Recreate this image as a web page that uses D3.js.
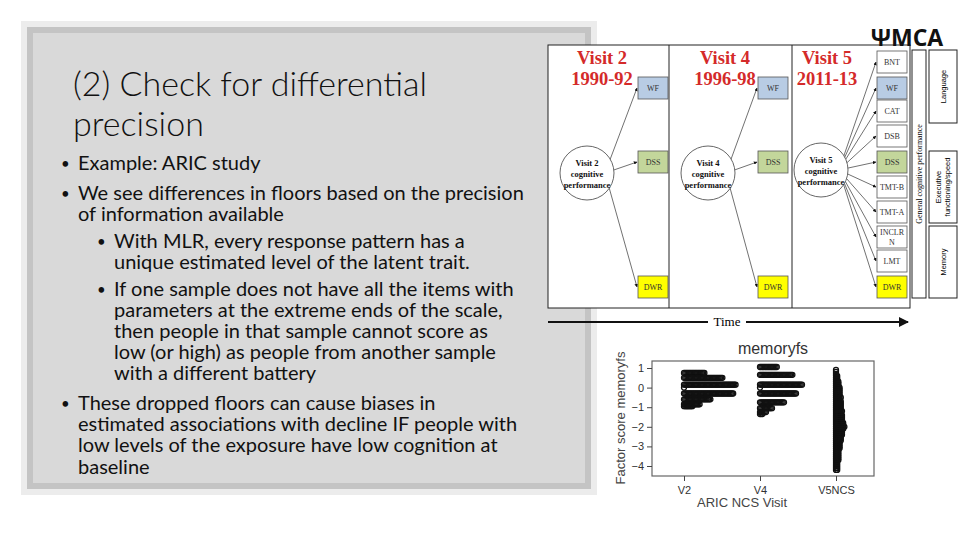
<!DOCTYPE html>
<html><head><meta charset="utf-8">
<script src="https://cdn.jsdelivr.net/npm/d3@7"></script>
<style>body{margin:0;background:#fff}svg{display:block}</style>
</head><body>
<svg id="slide" width="960" height="540"></svg>
<script>
// dot plot data: factor score levels and number of people at each level
let visits = ["V2", "V4", "V5NCS"];
let v2Levels = [0.75, 0.5, 0.15, 0, -0.3, -0.6, -0.85, -0.95];
let v2Counts = [18, 33, 44, 1, 42, 23, 14, 8];
let v4Levels = [1.05, 0.65, 0.15, 0, -0.3, -0.75, -1.05, -1.25, -1.35];
let v4Counts = [15, 28, 36, 1, 31, 21, 11, 6, 3];
let v5Levels = [0.9, 0.8, 0.7, 0.6, 0.5, 0.4, 0.3, 0.2, 0.1, 0, -0.1, -0.2, -0.3, -0.4, -0.5, -0.6, -0.7, -0.8, -0.9, -1.0,
  -1.1, -1.2, -1.3, -1.4, -1.5, -1.6, -1.7, -1.8, -1.9, -2.0, -2.1, -2.2, -2.3, -2.4, -2.5, -2.6, -2.7, -2.8, -2.9, -3.0,
  -3.1, -3.2, -3.3, -3.4, -3.5, -3.6, -3.7, -3.8, -3.9, -4.0, -4.1, -4.2];
let v5Counts = [1, 1, 1, 2, 2, 2, 3, 3, 3, 4, 4, 4, 4, 4, 5, 4, 5, 5, 5, 5,
  5, 6, 5, 6, 6, 6, 6, 7, 7, 8, 7, 6, 6, 6, 5, 5, 5, 4, 4, 4,
  4, 3, 3, 3, 3, 3, 3, 2, 2, 2, 2, 2];
let yTicks = [1, 0, -1, -2, -3, -4];

let svg = d3.select("#slide");

// ---- left text panel
svg.append("rect").attr("x", 21).attr("y", 21).attr("width", 576).attr("height", 474).attr("fill", "#ececec");
svg.append("rect").attr("x", 27).attr("y", 27).attr("width", 564).attr("height", 462).attr("fill", "#c4c4c4");
svg.append("rect").attr("x", 33).attr("y", 33).attr("width", 552).attr("height", 450).attr("fill", "#d9d9d9");

svg.append("text").attr("x", 73).attr("y", 96).attr("font-family", "Lato").attr("font-weight", 300)
  .attr("font-size", 34).attr("fill", "#111").text("(2) Check for differential");
svg.append("text").attr("x", 73).attr("y", 136).attr("font-family", "Lato").attr("font-weight", 300)
  .attr("font-size", 34).attr("fill", "#111").text("precision");

let lines = [
  [1, true, 170, "Example: ARIC study"],
  [1, true, 200, "We see differences in floors based on the precision"],
  [1, false, 221, "of information available"],
  [2, true, 248, "With MLR, every response pattern has a"],
  [2, false, 269, "unique estimated level of the latent trait."],
  [2, true, 296, "If one sample does not have all the items with"],
  [2, false, 317, "parameters at the extreme ends of the scale,"],
  [2, false, 338, "then people in that sample cannot score as"],
  [2, false, 359, "low (or high) as people from another sample"],
  [2, false, 380, "with a different battery"],
  [1, true, 410, "These dropped floors can cause biases in"],
  [1, false, 431, "estimated associations with decline IF people with"],
  [1, false, 452, "low levels of the exposure have low cognition at"],
  [1, false, 474, "baseline"]
];
lines.forEach(function(l) {
  let tx = l[0] == 1 ? 78 : 114;
  if (l[1]) svg.append("text").attr("x", tx - 17).attr("y", l[2] - 1).attr("font-family", "Lato")
    .attr("font-size", 15).attr("fill", "#111").text("•");
  svg.append("text").attr("x", tx).attr("y", l[2]).attr("font-family", "Lato")
    .attr("font-size", 20).attr("fill", "#111").attr("textLength", null).text(l[3]);
});

// ---- diagram
let dg = svg.append("g");
dg.append("rect").attr("x", 548).attr("y", 45).attr("width", 362).attr("height", 263)
  .attr("fill", "#fff").attr("stroke", "#222").attr("stroke-width", 1);
[669, 792].forEach(function(x) {
  dg.append("line").attr("x1", x).attr("x2", x).attr("y1", 45).attr("y2", 308).attr("stroke", "#222");
});
svg.append("defs").append("marker").attr("id", "ah").attr("viewBox", "0 0 10 10").attr("refX", 9).attr("refY", 5)
  .attr("markerWidth", 5).attr("markerHeight", 5).attr("orient", "auto")
  .append("path").attr("d", "M0,0L10,5L0,10z").attr("fill", "#111");

let cols = [
  {t1: "Visit 2", t2: "1990-92", tx: 602, cx: 587, cy: 173, bx: 638, nm: "Visit 2"},
  {t1: "Visit 4", t2: "1996-98", tx: 725, cx: 708, cy: 173, bx: 758, nm: "Visit 4"},
  {t1: "Visit 5", t2: "2011-13", tx: 827, cx: 821, cy: 170, bx: 877, nm: "Visit 5"}
];
let boxColors = {WF: "#b8cce4", DSS: "#c3d69b", DWR: "#ffff00"};
let rowsY = {BNT: 51, WF: 77, CAT: 100, DSB: 125, DSS: 151, "TMT-B": 176, "TMT-A": 201, INCLRN: 226, LMT: 250, DWR: 276};

cols.forEach(function(c, i) {
  dg.append("text").attr("x", c.tx).attr("y", 64).attr("text-anchor", "middle").attr("font-family", "Liberation Serif")
    .attr("font-weight", "bold").attr("font-size", 18.5).attr("fill", "#d42a2a").text(c.t1);
  dg.append("text").attr("x", c.tx).attr("y", 85).attr("text-anchor", "middle").attr("font-family", "Liberation Serif")
    .attr("font-weight", "bold").attr("font-size", 18.5).attr("fill", "#d42a2a").text(c.t2);
  let items = i < 2 ? ["WF", "DSS", "DWR"] : Object.keys(rowsY);
  items.forEach(function(k) {
    let y0 = rowsY[k], h = 22;
    dg.append("line").attr("x1", c.cx + 18).attr("y1", c.cy).attr("x2", c.bx - 1).attr("y2", y0 + h / 2)
      .attr("stroke", "#333").attr("stroke-width", 0.7).attr("marker-end", "url(#ah)");
    dg.append("rect").attr("x", c.bx).attr("y", y0).attr("width", 30).attr("height", h)
      .attr("fill", boxColors[k] || "#fff").attr("stroke", "#555").attr("stroke-width", 0.8);
    let lab = k == "INCLRN" ? ["INCLR", "N"] : [k];
    lab.forEach(function(s, j) {
      dg.append("text").attr("x", c.bx + 15).attr("y", y0 + (lab.length == 1 ? 14 : 9 + j * 10))
        .attr("text-anchor", "middle").attr("font-family", "Liberation Serif").attr("font-size", 8).attr("fill", "#333").text(s);
    });
  });
  dg.append("circle").attr("cx", c.cx).attr("cy", c.cy).attr("r", 27).attr("fill", "#fff").attr("stroke", "#666");
  [c.nm, "cognitive", "performance"].forEach(function(s, j) {
    dg.append("text").attr("x", c.cx).attr("y", c.cy - 7 + j * 11).attr("text-anchor", "middle")
      .attr("font-family", "Liberation Serif").attr("font-weight", "bold").attr("font-size", 8.5).attr("fill", "#111").text(s);
  });
});

// side bars
dg.append("rect").attr("x", 912).attr("y", 50).attr("width", 14).attr("height", 248).attr("fill", "#fff").attr("stroke", "#222");
dg.append("text").attr("transform", "translate(922,174) rotate(-90)").attr("text-anchor", "middle")
  .attr("font-family", "Liberation Serif").attr("font-size", 8).text("General cognitive performance");
[[50, 73, ["Language"]], [151, 72, ["Executive", "functioning/speed"]], [226, 72, ["Memory"]]].forEach(function(b) {
  dg.append("rect").attr("x", 929).attr("y", b[0]).attr("width", 28).attr("height", b[1]).attr("fill", "#fff").attr("stroke", "#222");
  b[2].forEach(function(s, j) {
    let off = b[2].length == 1 ? 3 : -2 + j * 9;
    dg.append("text").attr("transform", "translate(" + (943 + off) + "," + (b[0] + b[1] / 2) + ") rotate(-90)")
      .attr("text-anchor", "middle").attr("font-family", "Liberation Sans").attr("font-size", 7.5).text(s);
  });
});
svg.append("text").attr("x", 907).attr("y", 46).attr("text-anchor", "middle").attr("font-family", "Open Sans")
  .attr("font-weight", "bold").attr("font-size", 23).attr("fill", "#111").text("ΨMCA");

// time arrow
dg.append("line").attr("x1", 548).attr("x2", 708).attr("y1", 322).attr("y2", 322).attr("stroke", "#111").attr("stroke-width", 2);
dg.append("line").attr("x1", 746).attr("x2", 908).attr("y1", 322).attr("y2", 322).attr("stroke", "#111").attr("stroke-width", 2)
  .attr("marker-end", "url(#ah)");
dg.append("text").attr("x", 727).attr("y", 326).attr("text-anchor", "middle").attr("font-family", "Liberation Serif")
  .attr("font-size", 13).text("Time");

// ---- memoryfs dot plot
let x = d3.scalePoint().domain(visits).range([684, 836]);
let y = d3.scaleLinear().domain([-4, 1]).range([466, 368]);
let pg = svg.append("g");
pg.append("rect").attr("x", 652).attr("y", 361).attr("width", 222).attr("height", 115)
  .attr("fill", "none").attr("stroke", "#666").attr("stroke-width", 1.2);

let yAxis = d3.axisLeft(y).tickValues(yTicks).tickSize(5).tickFormat(d3.format("d"));
let ga = pg.append("g").attr("transform", "translate(652,0)").call(yAxis);
ga.select(".domain").remove();
ga.selectAll("line").attr("stroke", "#444");
ga.selectAll("text").attr("font-family", "Liberation Sans").attr("font-size", 11).attr("fill", "#333");

let xAxis = d3.axisBottom(x).tickSize(5);
let gx = pg.append("g").attr("transform", "translate(0,476)").call(xAxis);
gx.select(".domain").remove();
gx.selectAll("line").attr("stroke", "#444");
gx.selectAll("text").attr("font-family", "Liberation Sans").attr("font-size", 11).attr("fill", "#333").attr("dy", "0.9em");

let dots = [];
[[v2Levels, v2Counts], [v4Levels, v4Counts], [v5Levels, v5Counts]].forEach(function(s, i) {
  s[0].forEach(function(lv, j) {
    for (let k = 0; k < s[1][j]; k++) dots.push({v: visits[i], lv: lv, k: k});
  });
});
pg.selectAll("circle.dot").data(dots).enter().append("circle").attr("class", "dot")
  .attr("cx", d => x(d.v) + d.k * 1.2).attr("cy", d => y(d.lv)).attr("r", 2.5)
  .attr("fill", "none").attr("stroke", "#111").attr("stroke-width", 1.3);

pg.append("text").attr("x", 773).attr("y", 354).attr("text-anchor", "middle").attr("font-family", "Liberation Sans")
  .attr("font-size", 16).attr("fill", "#333").text("memoryfs");
pg.append("text").attr("x", 742).attr("y", 507).attr("text-anchor", "middle").attr("font-family", "Liberation Sans")
  .attr("font-size", 13).attr("fill", "#444").text("ARIC NCS Visit");
pg.append("text").attr("transform", "translate(625,418) rotate(-90)").attr("text-anchor", "middle")
  .attr("font-family", "Liberation Sans").attr("font-size", 13).attr("fill", "#444").text("Factor score memoryfs");
</script>
</body></html>
